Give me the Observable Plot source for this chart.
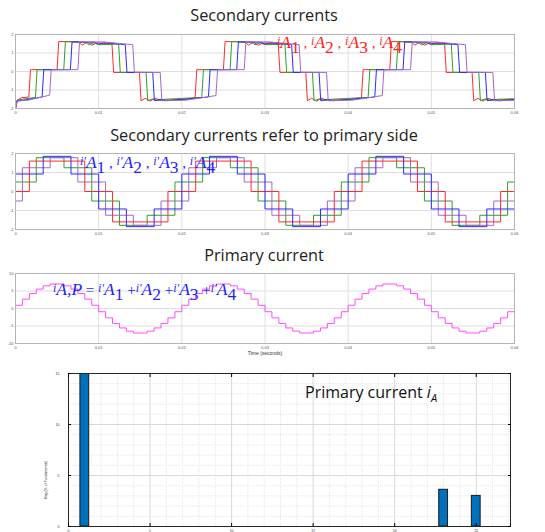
<!DOCTYPE html>
<html><head><meta charset="utf-8">
<script src="https://cdn.jsdelivr.net/npm/d3@7"></script>
<script src="https://cdn.jsdelivr.net/npm/@observablehq/plot@0.6"></script>
<style>
body{margin:0;background:#fff;}
#root{position:relative;width:545px;height:532px;overflow:hidden;background:#fff;}
.layer{position:absolute;left:0;}
</style></head><body><div id="root"></div>
<script>
// ---------- axis ticks / labels ----------
const timeTicks = [0, 0.01, 0.02, 0.03, 0.04, 0.05, 0.06];
const timeTickLabels = ["0", "0.01", "0.02", "0.03", "0.04", "0.05", "0.06"];
const secTicks = [-2, -1, 0, 1, 2];
const primTicks = [-10, -5, 0, 5, 10];
const harmTicks = [0, 5, 10, 15, 20, 25];
const magTicks = [0, 5, 10, 15];

// ---------- panel 1: secondary currents [t (s), A] ----------
const secA1 = [[0,-2.0],[0.0002,-1.55],[0.0007,-1.42],[0.0016,-1.38],[0.0018,0.1],[0.0050,0.1],[0.0052,1.62],[0.0076,1.6],[0.0080,1.42],[0.0086,1.58],[0.0092,1.42],[0.0098,1.55],[0.0116,1.48],[0.0118,-0.05],[0.0149,-0.05],[0.0151,-1.58],[0.0156,-1.45],[0.0162,-1.6],[0.0168,-1.45],[0.0175,-1.55],[0.0205,-1.5],[0.0216,-1.4],[0.0218,0.1],[0.0250,0.1],[0.0252,1.62],[0.0276,1.6],[0.0280,1.42],[0.0286,1.58],[0.0292,1.42],[0.0298,1.55],[0.0316,1.48],[0.0318,-0.05],[0.0349,-0.05],[0.0351,-1.58],[0.0356,-1.45],[0.0362,-1.6],[0.0368,-1.45],[0.0375,-1.55],[0.0405,-1.5],[0.0416,-1.4],[0.0418,0.1],[0.0450,0.1],[0.0452,1.62],[0.0476,1.6],[0.0480,1.42],[0.0486,1.58],[0.0492,1.42],[0.0498,1.55],[0.0516,1.48],[0.0518,-0.05],[0.0549,-0.05],[0.0551,-1.58],[0.0556,-1.45],[0.0562,-1.6],[0.0568,-1.45],[0.0575,-1.55],[0.0600,-1.48]];
const secA2 = [[0,-2.0],[0.0002,-1.55],[0.0008,-1.5],[0.0024,-1.4],[0.0026,0.1],[0.0058,0.1],[0.0060,1.62],[0.0084,1.58],[0.0088,1.45],[0.0094,1.55],[0.0100,1.45],[0.0124,1.48],[0.0126,-0.05],[0.0157,-0.05],[0.0159,-1.58],[0.0165,-1.48],[0.0172,-1.58],[0.0180,-1.5],[0.0224,-1.4],[0.0226,0.1],[0.0258,0.1],[0.0260,1.62],[0.0284,1.58],[0.0288,1.45],[0.0294,1.55],[0.0300,1.45],[0.0324,1.48],[0.0326,-0.05],[0.0357,-0.05],[0.0359,-1.58],[0.0365,-1.48],[0.0372,-1.58],[0.0380,-1.5],[0.0424,-1.4],[0.0426,0.1],[0.0458,0.1],[0.0460,1.62],[0.0484,1.58],[0.0488,1.45],[0.0494,1.55],[0.0500,1.45],[0.0524,1.48],[0.0526,-0.05],[0.0557,-0.05],[0.0559,-1.58],[0.0565,-1.48],[0.0572,-1.58],[0.0580,-1.5],[0.0600,-1.48]];
const secA3 = [[0,-2.0],[0.0002,-1.58],[0.0010,-1.55],[0.0032,-1.38],[0.0034,0.1],[0.0066,0.1],[0.0068,1.6],[0.0095,1.58],[0.0100,1.48],[0.0106,1.56],[0.0132,1.45],[0.0134,-0.05],[0.0165,-0.05],[0.0167,-1.58],[0.0175,-1.5],[0.0182,-1.58],[0.0200,-1.52],[0.0232,-1.38],[0.0234,0.1],[0.0266,0.1],[0.0268,1.6],[0.0295,1.58],[0.0300,1.48],[0.0306,1.56],[0.0332,1.45],[0.0334,-0.05],[0.0365,-0.05],[0.0367,-1.58],[0.0375,-1.5],[0.0382,-1.58],[0.0400,-1.52],[0.0432,-1.38],[0.0434,0.1],[0.0466,0.1],[0.0468,1.6],[0.0495,1.58],[0.0500,1.48],[0.0506,1.56],[0.0532,1.45],[0.0534,-0.05],[0.0565,-0.05],[0.0567,-1.58],[0.0575,-1.5],[0.0582,-1.58],[0.0600,-1.52]];
const secA4 = [[0,-2.0],[0.0002,-1.6],[0.0015,-1.55],[0.0041,-1.28],[0.0043,0.1],[0.0075,0.1],[0.0077,1.6],[0.0105,1.6],[0.0141,1.45],[0.0143,-0.05],[0.0174,-0.05],[0.0176,-1.58],[0.0205,-1.55],[0.0241,-1.3],[0.0243,0.1],[0.0275,0.1],[0.0277,1.6],[0.0305,1.6],[0.0341,1.45],[0.0343,-0.05],[0.0374,-0.05],[0.0376,-1.58],[0.0405,-1.55],[0.0441,-1.3],[0.0443,0.1],[0.0475,0.1],[0.0477,1.6],[0.0505,1.6],[0.0541,1.45],[0.0543,-0.05],[0.0574,-0.05],[0.0576,-1.58],[0.0600,-1.56]];

// ---------- panel 2: referred currents (step start times, levels) ----------
const refT1 = [0, 0.00167, 0.00833, 0.01167, 0.01833, 0.02167, 0.02833, 0.03167, 0.03833, 0.04167, 0.04833, 0.05167, 0.05833, 0.06];
const refV1 = [0, 1.6, 0, -1.6, 0, 1.6, 0, -1.6, 0, 1.6, 0, -1.6, 0, 0];
const refT2 = [0, 0.0025, 0.00583, 0.00917, 0.0125, 0.01583, 0.01917, 0.0225, 0.02583, 0.02917, 0.0325, 0.03583, 0.03917, 0.0425, 0.04583, 0.04917, 0.0525, 0.05583, 0.05917, 0.06];
const refV2 = [0.5, 1.78, 1.25, -0.5, -1.78, -1.25, 0.5, 1.78, 1.25, -0.5, -1.78, -1.25, 0.5, 1.78, 1.25, -0.5, -1.78, -1.25, 0.5, 0.5];
const refT3 = [0, 0.00333, 0.00667, 0.01, 0.01333, 0.01667, 0.02, 0.02333, 0.02667, 0.03, 0.03333, 0.03667, 0.04, 0.04333, 0.04667, 0.05, 0.05333, 0.05667, 0.06];
const refV3 = [0.92, 1.85, 0.92, -0.92, -1.85, -0.92, 0.92, 1.85, 0.92, -0.92, -1.85, -0.92, 0.92, 1.85, 0.92, -0.92, -1.85, -0.92, -0.92];
const refT4 = [0, 0.00083, 0.00417, 0.0075, 0.01083, 0.01417, 0.0175, 0.02083, 0.02417, 0.0275, 0.03083, 0.03417, 0.0375, 0.04083, 0.04417, 0.0475, 0.05083, 0.05417, 0.0575, 0.06];
const refV4 = [-0.5, 1.25, 1.78, 0.5, -1.25, -1.78, -0.5, 1.25, 1.78, 0.5, -1.25, -1.78, -0.5, 1.25, 1.78, 0.5, -1.25, -1.78, -0.5, -0.5];

// ---------- panel 3: primary current (step start times, levels) ----------
const primT = [0,.00083,.00167,.0025,.00333,.00417,.005,.00583,.00667,.0075,.00833,.00917,.01,.01083,.01167,.0125,.01333,.01417,.015,.01583,.01667,.0175,.01833,.01917,.02,.02083,.02167,.0225,.02333,.02417,.025,.02583,.02667,.0275,.02833,.02917,.03,.03083,.03167,.0325,.03333,.03417,.035,.03583,.03667,.0375,.03833,.03917,.04,.04083,.04167,.0425,.04333,.04417,.045,.04583,.04667,.0475,.04833,.04917,.05,.05083,.05167,.0525,.05333,.05417,.055,.05583,.05667,.0575,.05833,.05917,.06];
const primV = [0.92,2.67,4.27,5.55,6.48,7.0,7.0,6.48,5.55,4.27,2.67,0.92,-0.92,-2.67,-4.27,-5.55,-6.48,-7.0,-7.0,-6.48,-5.55,-4.27,-2.67,-0.92,
               0.92,2.67,4.27,5.55,6.48,7.0,7.0,6.48,5.55,4.27,2.67,0.92,-0.92,-2.67,-4.27,-5.55,-6.48,-7.0,-7.0,-6.48,-5.55,-4.27,-2.67,-0.92,
               0.92,2.67,4.27,5.55,6.48,7.0,7.0,6.48,5.55,4.27,2.67,0.92,-0.92,-2.67,-4.27,-5.55,-6.48,-7.0,-7.0,-6.48,-5.55,-4.27,-2.67,-0.92,-0.92];

// ---------- panel 4: harmonic spectrum ----------
const harmOrder = [1, 23, 25];
const harmMag = [100, 3.6, 3.0];

// ---------- colours ----------
const cRed = "#ff2a2a", cGreen = "#2f9e2f", cBlue = "#2a2aff", cPurple = "#a468cc", cMag = "#ff4dff";

// ---------- helpers ----------
const root = document.getElementById("root");
function place(node, top) {
  const d = document.createElement("div");
  d.className = "layer"; d.style.top = top + "px";
  d.appendChild(node); root.appendChild(d);
}
const pairs = a => a.map(([t, v]) => ({t, v}));
const steps = (T, V) => T.map((t, i) => ({t, v: V[i]}));
const tickFont = "Liberation Sans, Arial, sans-serif";

function wavePanel({height, marginTop, marginBottom, yDomain, yTicks, marks}) {
  return Plot.plot({
    width: 545, height, marginLeft: 15, marginRight: 31, marginTop, marginBottom,
    style: {background: "transparent", fontFamily: tickFont},
    x: {domain: [0, 0.06]},
    y: {domain: yDomain},
    marks: [
      Plot.gridX(timeTicks, {stroke: "#dedede", strokeOpacity: 1}),
      Plot.gridY(yTicks, {stroke: "#dedede", strokeOpacity: 1}),
      ...marks,
      Plot.frame({stroke: "#b4b4b4"}),
      Plot.axisX(timeTicks, {tickSize: 0, tickPadding: 3, fontSize: 4, fill: "#555", label: null,
        tickFormat: d => timeTickLabels[timeTicks.indexOf(d)]}),
      Plot.axisY(yTicks, {tickSize: 0, tickPadding: 2, fontSize: 4, fill: "#555", label: null, tickFormat: d => String(d)})
    ]
  });
}

// panel 1
place(wavePanel({
  height: 96, marginTop: 10, marginBottom: 12, yDomain: [-2, 2], yTicks: secTicks,
  marks: [
    Plot.line(pairs(secA1), {x: "t", y: "v", stroke: cRed, strokeWidth: 1}),
    Plot.line(pairs(secA2), {x: "t", y: "v", stroke: cGreen, strokeWidth: 1}),
    Plot.line(pairs(secA3), {x: "t", y: "v", stroke: cBlue, strokeWidth: 1}),
    Plot.line(pairs(secA4), {x: "t", y: "v", stroke: cPurple, strokeWidth: 1})
  ]
}), 24);

// panel 2
place(wavePanel({
  height: 96, marginTop: 10, marginBottom: 10, yDomain: [-2, 2], yTicks: secTicks,
  marks: [
    Plot.line(steps(refT2, refV2), {x: "t", y: "v", stroke: cGreen, strokeWidth: 1, curve: "step-after"}),
    Plot.line(steps(refT4, refV4), {x: "t", y: "v", stroke: cPurple, strokeWidth: 1, curve: "step-after"}),
    Plot.line(steps(refT1, refV1), {x: "t", y: "v", stroke: cRed, strokeWidth: 1, curve: "step-after"}),
    Plot.line(steps(refT3, refV3), {x: "t", y: "v", stroke: cBlue, strokeWidth: 1, curve: "step-after"})
  ]
}), 143);

// panel 3
place(wavePanel({
  height: 96, marginTop: 10, marginBottom: 16, yDomain: [-10, 10], yTicks: primTicks,
  marks: [
    Plot.line(steps(primT, primV), {x: "t", y: "v", stroke: cMag, strokeWidth: 1, curve: "step-after"}),
    Plot.text(["Time (seconds)"], {frameAnchor: "bottom", dy: 11, fontSize: 5, fill: "#333"})
  ]
}), 263);

// panel 4: spectrum
const harm = harmOrder.map((o, i) => ({order: o, mag: harmMag[i]}));
const minorX = d3.range(0, 28).filter(d => d % 5 !== 0);
const minorY = d3.range(0, 16).filter(d => d % 5 !== 0);
place(Plot.plot({
  width: 545, height: 169, marginLeft: 68, marginRight: 35, marginTop: 10, marginBottom: 6,
  style: {background: "transparent", fontFamily: tickFont},
  x: {domain: [0, 27.1]},
  y: {domain: [0, 15]},
  marks: [
    Plot.gridX(minorX, {stroke: "#e6e6e6", strokeOpacity: 1, strokeDasharray: "1,1"}),
    Plot.gridY(minorY, {stroke: "#e6e6e6", strokeOpacity: 1, strokeDasharray: "1,1"}),
    Plot.gridX(harmTicks, {stroke: "#d8d8d8", strokeOpacity: 1}),
    Plot.gridY(magTicks, {stroke: "#d8d8d8", strokeOpacity: 1}),
    Plot.rectY(harm, {x1: d => d.order - 0.27, x2: d => d.order + 0.27, y1: 0, y2: "mag",
      fill: "#0072BD", stroke: "#1a1a1a", strokeWidth: 1, clip: true}),
    Plot.frame({stroke: "#262626"}),
    Plot.axisX(harmTicks, {tickSize: -3, tickPadding: 6, fontSize: 3.5, fill: "#333", label: null, tickFormat: d => String(d)}),
    Plot.axisX(harmTicks, {anchor: "top", tickSize: -3, tickFormat: () => "", label: null}),
    Plot.axisY(magTicks, {tickSize: -3, tickPadding: 12, fontSize: 3.5, fill: "#333", label: null, tickFormat: d => String(d)}),
    Plot.axisY(magTicks, {anchor: "right", tickSize: -3, tickFormat: () => "", label: null})
  ]
}), 363);

// ---------- text overlay ----------
const ov = d3.create("svg").attr("width", 545).attr("height", 532)
  .style("position", "absolute").style("left", 0).style("top", 0).style("pointer-events", "none");

function title(txt, y) {
  ov.append("text").attr("x", 264).attr("y", y).attr("text-anchor", "middle")
    .attr("font-family", "Open Sans, sans-serif").attr("font-size", 16.3).attr("fill", "#222").text(txt);
}
title("Secondary currents", 20.7);
title("Secondary currents refer to primary side", 140.7);
title("Primary current", 260.7);

// segments: [text, fontSize, baselineShift, italic]
function rich(x, y, color, segs, family) {
  const t = ov.append("text").attr("x", x).attr("y", y).attr("fill", color)
    .attr("font-family", family || "Liberation Serif, Times New Roman, serif");
  let prev = 0;
  segs.forEach(([s, fs, sh, it]) => {
    t.append("tspan").attr("font-size", fs).attr("dy", sh - prev)
      .attr("font-style", it ? "italic" : "normal").attr("xml:space", "preserve").text(s);
    prev = sh;
  });
  return t;
}
const grp = (pre, n) => [[pre, 12, -3.5, true], ["A", 17.5, 0, true], [n, 17.5, 5, false]];
const sep = s => [s, 15, 0, false];
rich(277, 48, "#ff1f1f", [...grp("i", "1"), sep(" , "), ...grp("i", "2"), sep(" , "),
  ...grp("i", "3"), sep(" , "), ...grp("i", "4")]);
rich(80, 168, "#1f1fff", [...grp("i'", "1"), sep(" , "), ...grp("i'", "2"), sep(" , "),
  ...grp("i'", "3"), sep(" , "), ...grp("i'", "4")]);
rich(53, 295, "#1f1fff", [["i", 12, -3.5, true], ["A,P", 17.5, 0, true], [" = ", 15, 0, false],
  ...grp("i'", "1"), sep(" +"), ...grp("i'", "2"), sep(" +"),
  ...grp("i'", "3"), sep(" +"), ...grp("i'", "4")]);

rich(305, 398, "#111", [["Primary current ", 16, 0, false], ["i", 16, 0, true], ["A", 11, 4, true]], "Open Sans, sans-serif");

ov.append("text").attr("transform", "translate(47,480) rotate(-90)").attr("text-anchor", "middle")
  .attr("font-family", tickFont).attr("font-size", 3.5).attr("fill", "#333").text("Mag (% of Fundamental)");

root.appendChild(ov.node());
</script></body></html>
